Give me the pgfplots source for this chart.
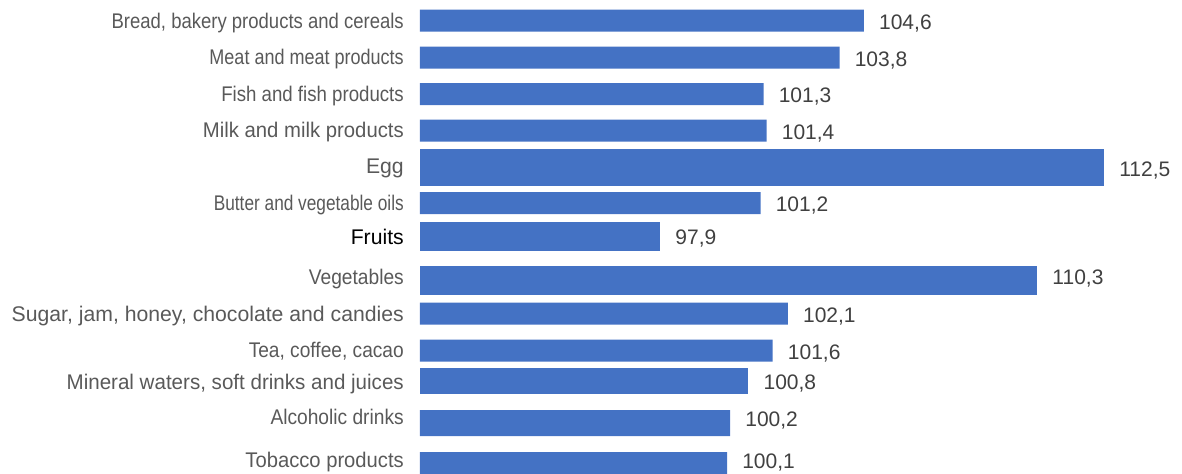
\documentclass[border=0pt]{standalone}
\usepackage{fontspec}
\setmainfont{Liberation Sans}
\usepackage{pgfplots}
\pgfplotsset{compat=1.18}
\definecolor{barblue}{HTML}{4472C4}
\definecolor{labgray}{HTML}{595959}
\definecolor{valgray}{HTML}{404040}
\newcommand{\sx}[2]{\scalebox{#1}[1]{#2}}
\begin{document}
\begin{tikzpicture}
\begin{axis}[
  scale only axis, width=762pt, height=474pt,
  xmin=90, xmax=115.06, ymin=0, ymax=474, y dir=reverse,
  axis line style={draw=none}, tick style={draw=none}, major tick length=0pt,
  xtick=\empty,
  ytick={21,57,94,130,166,203,237,276.5,314,350,381.5,416.5,460},
  yticklabels={
    {\sx{0.873}{Bread, bakery products and cereals}},
    {\sx{0.85}{Meat and meat products}},
    {\sx{0.88}{Fish and fish products}},
    {\sx{0.958}{Milk and milk products}},
    {Egg},
    {\sx{0.814}{Butter and vegetable oils}},
    {\textcolor{black}{Fruits}},
    {\sx{0.904}{Vegetables}},
    {Sugar, jam, honey, chocolate and candies},
    {\sx{0.903}{Tea, coffee, cacao}},
    {\sx{0.97}{Mineral waters, soft drinks and juices}},
    {\sx{0.905}{Alcoholic drinks}},
    {\sx{0.953}{Tobacco products}}},
  yticklabel style={anchor=base east, inner sep=0pt, xshift=-16pt, yshift=-7.5pt,
    font=\fontsize{21.2}{25}\selectfont, text=labgray},
  xbar, bar shift=0pt,
  nodes near coords,
  nodes near coords style={anchor=base west, inner sep=0pt, xshift=15pt, yshift=-8.5pt,
    font=\fontsize{21}{25}\selectfont, text=valgray},
  /pgf/number format/use comma,
  /pgf/number format/fixed,
  /pgf/number format/fixed zerofill,
  /pgf/number format/precision=1,
  /pgf/number format/assume math mode=true,
]
\addplot[fill=barblue, draw=none, bar width=22] coordinates {
  (104.6,20.5) (103.8,57.5) (101.3,94) (101.4,130.5) (101.2,203) (102.1,313.5) (101.6,350.5)};
\addplot[fill=barblue, draw=none, bar width=37] coordinates {(112.5,167.5)};
\addplot[fill=barblue, draw=none, bar width=29] coordinates {(97.9,236)};
\addplot[fill=barblue, draw=none, bar width=29,
  nodes near coords style={yshift=4.5pt}] coordinates {(110.3,280.5)};
\addplot[fill=barblue, draw=none, bar width=26] coordinates {(100.8,380.5)};
\addplot[fill=barblue, draw=none, bar width=26,
  nodes near coords style={yshift=5pt}] coordinates {(100.2,423) (100.1,465)};
\end{axis}
\pgfresetboundingbox
\path[use as bounding box] ([xshift=-420pt]current axis.south west) rectangle (current axis.north east);
\end{tikzpicture}
\end{document}
